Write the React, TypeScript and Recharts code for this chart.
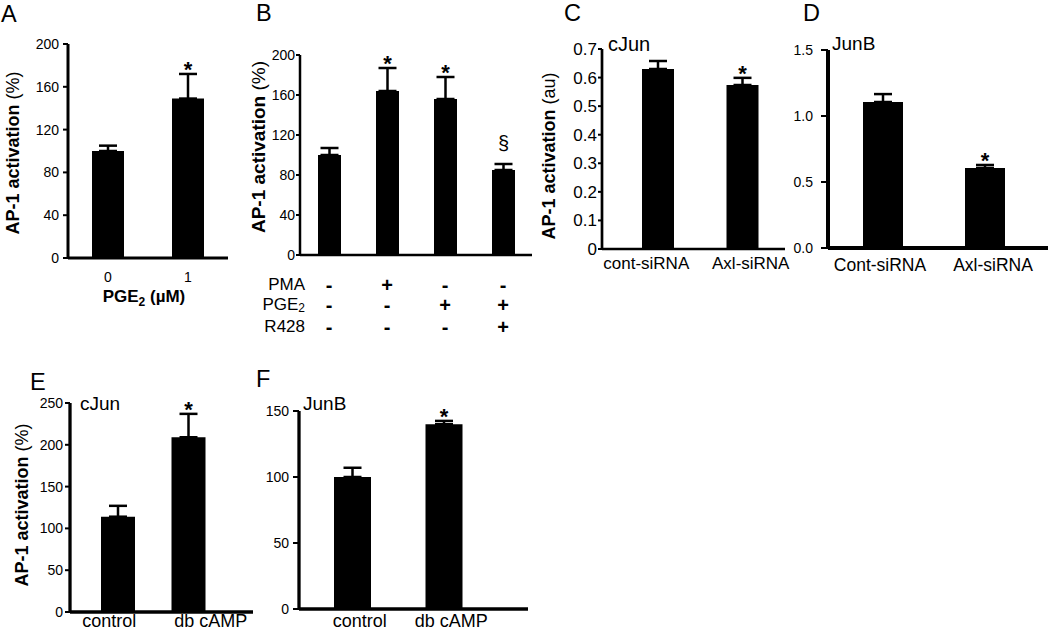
import React from 'react';
import { BarChart, Bar, XAxis, YAxis, ErrorBar, LabelList, Label } from 'recharts';

const FONT = '"Liberation Sans", Arial, Helvetica, sans-serif';

// ---------- Panel A ----------
const aCategories = ['0', '1'];
const aValues = [100, 149];
const aErrors = [5, 23];
const aMarks = ['', '*'];
const aTicks = [0, 40, 80, 120, 160, 200];

// ---------- Panel B ----------
const bCategories = ['ctrl', 'PMA', 'PGE2', 'PGE2+R428'];
const bValues = [100, 164, 156, 85];
const bErrors = [7, 23, 22, 6];
const bMarks = ['', '*', '*', '§'];
const bTicks = [0, 40, 80, 120, 160, 200];
const bRowNames = ['PMA', 'PGE2', 'R428'];
const bPMA = ['-', '+', '-', '-'];
const bPGE2 = ['-', '-', '+', '+'];
const bR428 = ['-', '-', '-', '+'];

// ---------- Panel C ----------
const cCategories = ['cont-siRNA', 'Axl-siRNA'];
const cValues = [0.63, 0.574];
const cErrors = [0.028, 0.025];
const cMarks = ['', '*'];
const cTicks = [0, 0.1, 0.2, 0.3, 0.4, 0.5, 0.6, 0.7];

// ---------- Panel D ----------
const dCategories = ['Cont-siRNA', 'Axl-siRNA'];
const dValues = [1.106, 0.606];
const dErrors = [0.06, 0.023];
const dMarks = ['', '*'];
const dTicks = [0, 0.5, 1.0, 1.5];

// ---------- Panel E ----------
const eCategories = ['control', 'db cAMP'];
const eValues = [114, 209];
const eErrors = [13, 28];
const eMarks = ['', '*'];
const eTicks = [0, 50, 100, 150, 200, 250];

// ---------- Panel F ----------
const fCategories = ['control', 'db cAMP'];
const fValues = [100, 140];
const fErrors = [7, 2.5];
const fMarks = ['', '*'];
const fTicks = [0, 50, 100, 150];

const MarkLabel = (props: any) => {
  const value = props.value;
  if (!value) return null;
  const vb = props.viewBox ?? props;
  const x = Number(vb.x ?? props.x);
  const y = Number(vb.y ?? props.y);
  const w = Number(vb.width ?? props.width);
  const cx = x + w / 2;
  if (value === '§') {
    return (
      <text x={cx} y={y - 14} textAnchor="middle" fontSize={20} fontFamily={FONT} fill="#000">
        §
      </text>
    );
  }
  return (
    <text x={cx} y={y + 3} textAnchor="middle" fontSize={22} fontWeight="bold" fontFamily={FONT} fill="#000">
      {value}
    </text>
  );
};

const makeXTick = (fontSize: number, dy: number, dxs: number[] = []) => (props: any) => {
  const { x, y, payload } = props;
  const i = typeof payload.index === 'number' ? payload.index : 0;
  const dx = dxs[i] ?? 0;
  return (
    <text
      x={x + dx}
      y={y + dy}
      textAnchor="middle"
      dominantBaseline="central"
      fontSize={fontSize}
      fontFamily={FONT}
      fill="#000"
    >
      {payload.value}
    </text>
  );
};

const bTableTick = (props: any) => {
  const { x, y, payload } = props;
  const i = bCategories.indexOf(payload.value);
  const rows = [bPMA, bPGE2, bR428];
  const offs = [30, 50, 72];
  return (
    <g>
      {rows.map((r, k) => (
        <text
          key={k}
          x={x}
          y={y + offs[k]}
          textAnchor="middle"
          dominantBaseline="central"
          fontSize={20}
          fontWeight="bold"
          fontFamily={FONT}
          fill="#000"
        >
          {r[i]}
        </text>
      ))}
    </g>
  );
};

const makeYLabel = (cx: number, cy: number, bold: string, normal: string, size: number) => () => (
  <text
    x={cx}
    y={cy}
    transform={`rotate(-90 ${cx} ${cy})`}
    textAnchor="middle"
    dominantBaseline="central"
    fontFamily={FONT}
    fontSize={size}
    fill="#000"
  >
    <tspan fontWeight="bold">{bold}</tspan>
    <tspan>{normal}</tspan>
  </text>
);

type PanelSpec = {
  left: number;
  top: number;
  width: number;
  height: number;
  margin: { top: number; right: number; bottom: number; left: number };
  yWidth: number;
  xHeight: number;
  categories: string[];
  values: number[];
  errors: number[];
  marks: string[];
  ticks: number[];
  fmt: (v: number) => string;
  yTickSize: number;
  yTickMargin: number;
  yFont: number;
  xPadding: { left: number; right: number };
  barSize: number;
  axisW: number;
  xTick: any;
  yLabel?: any;
};

const Panel = (p: PanelSpec) => {
  const rows = p.categories.map((c, i) => ({
    cat: c,
    val: p.values[i],
    err: [0, p.errors[i]],
    errH: p.errors[i],
    mark: p.marks[i],
  }));
  const dmax = p.ticks[p.ticks.length - 1];
  return (
    <div style={{ position: 'absolute', left: p.left, top: p.top }}>
      <BarChart width={p.width} height={p.height} data={rows} margin={p.margin}>
        <XAxis
          dataKey="cat"
          type="category"
          height={p.xHeight}
          padding={p.xPadding}
          axisLine={{ stroke: '#000', strokeWidth: p.axisW }}
          tickLine={false}
          tickSize={0}
          tickMargin={0}
          interval={0}
          tick={p.xTick}
        />
        <YAxis
          type="number"
          domain={[0, dmax]}
          ticks={p.ticks}
          interval={0}
          width={p.yWidth}
          allowDataOverflow
          axisLine={{ stroke: '#000', strokeWidth: p.axisW }}
          tickLine={{ stroke: '#000', strokeWidth: 2 }}
          tickSize={p.yTickSize}
          tickMargin={p.yTickMargin}
          tickFormatter={p.fmt}
          tick={{ fill: '#000', fontSize: p.yFont, fontFamily: FONT }}
        >
          {p.yLabel ? <Label content={p.yLabel} /> : null}
        </YAxis>
        <Bar dataKey="val" stackId="s" fill="#000" barSize={p.barSize} isAnimationActive={false}>
          <ErrorBar dataKey="err" width={9} stroke="#000" strokeWidth={2.5} direction="y" />
        </Bar>
        <Bar dataKey="errH" stackId="s" fill="transparent" barSize={p.barSize} isAnimationActive={false}>
          <LabelList dataKey="mark" content={MarkLabel} />
        </Bar>
      </BarChart>
    </div>
  );
};

const intFmt = (v: number) => String(v);
const cFmt = (v: number) => (v === 0 ? '0' : v.toFixed(1));
const dFmt = (v: number) => v.toFixed(1);

export default function App() {
  return (
    <div
      style={{
        position: 'absolute',
        left: 0,
        top: 0,
        width: 1050,
        height: 631,
        background: '#fff',
        overflow: 'hidden',
        fontFamily: FONT,
      }}
    >
      <Panel
        left={0}
        top={0}
        width={240}
        height={320}
        margin={{ top: 44, right: 12, bottom: 22, left: 28 }}
        yWidth={40}
        xHeight={40}
        categories={aCategories}
        values={aValues}
        errors={aErrors}
        marks={aMarks}
        ticks={aTicks}
        fmt={intFmt}
        yTickSize={5}
        yTickMargin={4}
        yFont={14}
        xPadding={{ left: 0, right: 0 }}
        barSize={32}
        axisW={3}
        xTick={makeXTick(14, 19)}
        yLabel={makeYLabel(13, 153, 'AP-1 activation', ' (%)', 18)}
      />
      <Panel
        left={220}
        top={0}
        width={320}
        height={340}
        margin={{ top: 55, right: 8, bottom: 5, left: 40 }}
        yWidth={40}
        xHeight={80}
        categories={bCategories}
        values={bValues}
        errors={bErrors}
        marks={bMarks}
        ticks={bTicks}
        fmt={intFmt}
        yTickSize={4}
        yTickMargin={1}
        yFont={14}
        xPadding={{ left: 0, right: 0 }}
        barSize={23}
        axisW={2.5}
        xTick={bTableTick}
        yLabel={makeYLabel(38, 147, 'AP-1 activation', ' (%)', 19)}
      />
      <Panel
        left={540}
        top={0}
        width={250}
        height={290}
        margin={{ top: 49, right: 5, bottom: 11, left: 18 }}
        yWidth={44}
        xHeight={30}
        categories={cCategories}
        values={cValues}
        errors={cErrors}
        marks={cMarks}
        ticks={cTicks}
        fmt={cFmt}
        yTickSize={4}
        yTickMargin={1}
        yFont={17}
        xPadding={{ left: 14, right: 0 }}
        barSize={32}
        axisW={2.7}
        xTick={makeXTick(17, 14, [-12, 8])}
        yLabel={makeYLabel(9, 156, 'AP-1 activation', ' (au)', 18)}
      />
      <Panel
        left={790}
        top={0}
        width={260}
        height={290}
        margin={{ top: 50, right: 2, bottom: 12, left: 0 }}
        yWidth={38}
        xHeight={30}
        categories={dCategories}
        values={dValues}
        errors={dErrors}
        marks={dMarks}
        ticks={dTicks}
        fmt={dFmt}
        yTickSize={7}
        yTickMargin={8}
        yFont={14}
        xPadding={{ left: 4, right: 12 }}
        barSize={40}
        axisW={4}
        xTick={makeXTick(17.5, 17, [-3, 8])}
      />
      <Panel
        left={0}
        top={380}
        width={260}
        height={251}
        margin={{ top: 23, right: 7, bottom: 0, left: 25 }}
        yWidth={45}
        xHeight={19}
        categories={eCategories}
        values={eValues}
        errors={eErrors}
        marks={eMarks}
        ticks={eTicks}
        fmt={intFmt}
        yTickSize={5}
        yTickMargin={2}
        yFont={14}
        xPadding={{ left: 13, right: 29 }}
        barSize={34}
        axisW={3.3}
        xTick={makeXTick(18, 9, [-9, 22])}
        yLabel={makeYLabel(22, 125, 'AP-1 activation', ' (%)', 18)}
      />
      <Panel
        left={260}
        top={380}
        width={280}
        height={251}
        margin={{ top: 31, right: 12, bottom: 0, left: 0 }}
        yWidth={39}
        xHeight={22}
        categories={fCategories}
        values={fValues}
        errors={fErrors}
        marks={fMarks}
        ticks={fTicks}
        fmt={intFmt}
        yTickSize={6}
        yTickMargin={4}
        yFont={14}
        xPadding={{ left: 8, right: 38 }}
        barSize={37}
        axisW={3.3}
        xTick={makeXTick(18, 12, [7, 7])}
      />
      <svg
        width={1050}
        height={631}
        style={{ position: 'absolute', left: 0, top: 0, pointerEvents: 'none' }}
        fontFamily={FONT}
      >
        <g fontSize={23.5} fill="#000">
          <text x={1} y={21.5}>A</text>
          <text x={256} y={21}>B</text>
          <text x={564} y={21}>C</text>
          <text x={803} y={21}>D</text>
          <text x={30} y={390}>E</text>
          <text x={256} y={387}>F</text>
        </g>
        <g fontSize={19} fill="#000">
          <text x={608} y={51} fontSize={20}>cJun</text>
          <text x={832} y={50}>JunB</text>
          <text x={80} y={410}>cJun</text>
          <text x={303} y={410}>JunB</text>
        </g>
        <text x={144} y={302} textAnchor="middle" fontSize={17} fontWeight="bold" fill="#000">
          <tspan>PGE</tspan>
          <tspan fontSize={12} dy={4}>2</tspan>
          <tspan dy={-4}> (µM)</tspan>
        </text>
        <g fontSize={17} fill="#000" textAnchor="end" dominantBaseline="central">
          <text x={305} y={284}>{bRowNames[0]}</text>
          <text x={305} y={304}>
            <tspan>PGE</tspan>
            <tspan fontSize={12} dy={4}>2</tspan>
          </text>
          <text x={305} y={326}>{bRowNames[2]}</text>
        </g>
      </svg>
    </div>
  );
}
